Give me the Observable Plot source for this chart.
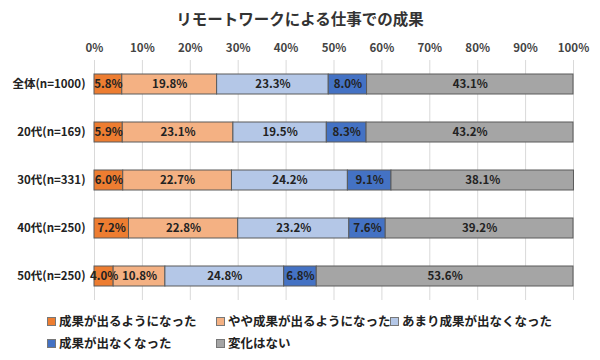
<!DOCTYPE html>
<html><head><meta charset="utf-8">
<script src="https://cdn.jsdelivr.net/npm/d3@7"></script>
<script src="https://cdn.jsdelivr.net/npm/@observablehq/plot@0.6"></script>
<style>
body{margin:0;background:#fff;font-family:"Noto Sans CJK JP","Noto Sans",sans-serif;}
#wrap{position:relative;width:600px;height:360px;overflow:hidden;}
#title{position:absolute;left:0;top:6px;width:600px;text-align:center;font-size:15.5px;font-weight:bold;color:#333;line-height:24px;}
#chart{position:absolute;left:0;top:34px;}
.lg{position:absolute;font-size:12.5px;font-weight:bold;color:#222;line-height:16px;white-space:nowrap;}
.lg i{display:inline-block;width:7px;height:7px;border:1px solid #777;margin-right:3px;vertical-align:0px;}
</style></head>
<body><div id="wrap"><div id="title">リモートワークによる仕事での成果</div><div id="chart"></div></div>
<script>
const categories = ["全体(n=1000)","20代(n=169)","30代(n=331)","40代(n=250)","50代(n=250)"];
const series = ["成果が出るようになった","やや成果が出るようになった","あまり成果が出なくなった","成果が出なくなった","変化はない"];
const colors = ["#ED7D31","#F4B183","#B4C7E7","#4472C4","#A5A5A5"];
const values = [
  [5.8,19.8,23.3,8.0,43.1],
  [5.9,23.1,19.5,8.3,43.2],
  [6.0,22.7,24.2,9.1,38.1],
  [7.2,22.8,23.2,7.6,39.2],
  [4.0,10.8,24.8,6.8,53.6]
];
const xTicks = [0,10,20,30,40,50,60,70,80,90,100];

const rows = [];
categories.forEach((c,i)=>series.forEach((s,j)=>rows.push({cat:c, series:s, value:values[i][j]})));

const font = "'Noto Sans CJK JP','Noto Sans',sans-serif";
const chart = Plot.plot({
  width:600, height:270, marginTop:26, marginBottom:4, marginLeft:94, marginRight:27,
  style:{fontFamily:font, background:"transparent"},
  x:{domain:[0,100]},
  y:{domain:categories, paddingInner:0.58, paddingOuter:0.29},
  color:{domain:series, range:colors},
  marks:[
    Plot.ruleX(xTicks,{stroke:"#d9d9d9", strokeWidth:1}),
    Plot.axisX({anchor:"top", ticks:xTicks, tickFormat:d=>d+"%", tickSize:0, tickPadding:9, label:null, fontSize:11.5, fontWeight:"bold", fill:"#444"}),
    Plot.axisY({tickSize:0, tickPadding:9, label:null, fontSize:11.5, fontWeight:"bold", fill:"#222"}),
    Plot.barX(rows, Plot.stackX({x:"value", y:"cat", fill:"series", stroke:"#5a5a5a", strokeWidth:1})),
    Plot.text(rows, Plot.stackX({x:"value", y:"cat", z:"series", text:d=>d.value.toFixed(1)+"%", fontSize:11.5, fontWeight:"bold", fill:"#222"}))
  ]
});
document.getElementById("chart").appendChild(chart);

const lgPos = [[47,313],[216,313],[390,313],[47,335],[216,335]];
const wrap = document.getElementById("wrap");
series.forEach((s,i)=>{
  const d = document.createElement("div");
  d.className="lg";
  d.style.left = lgPos[i][0]+"px";
  d.style.top = lgPos[i][1]+"px";
  const sq = document.createElement("i");
  sq.style.background = colors[i];
  d.appendChild(sq);
  d.appendChild(document.createTextNode(s));
  wrap.appendChild(d);
});
</script></body></html>
